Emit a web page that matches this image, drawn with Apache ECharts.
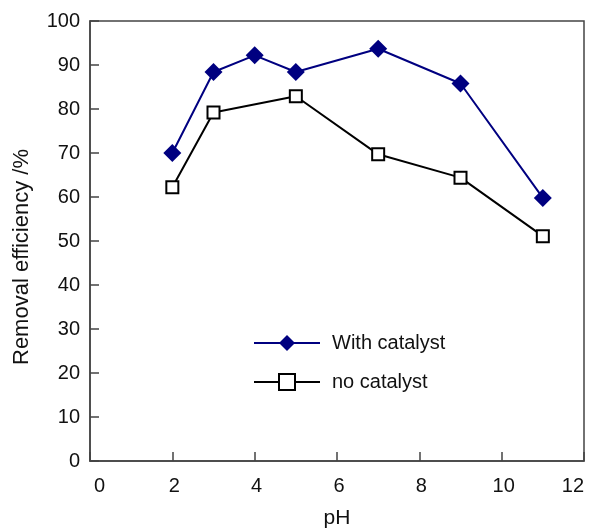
<!DOCTYPE html>
<html>
<head>
<meta charset="utf-8">
<script src="https://cdn.jsdelivr.net/npm/echarts@6/dist/echarts.min.js"></script>
<style>
  html, body { margin: 0; padding: 0; background: #fff; }
</style>
</head>
<body>
<div id="phChart" style="width: 595px; height: 532px;"></div>
<script>
// pH values and removal efficiency (%)
var phWith = [2, 3, 4, 5, 7, 9, 11];
var withCatalyst = [70, 88.4, 92.2, 88.4, 93.7, 85.8, 59.8];
var phNo = [2, 3, 5, 7, 9, 11];
var noCatalyst = [62.2, 79.2, 82.9, 69.7, 64.4, 51.1];

function pairs(xs, ys) {
    var res = [];
    for (var i = 0; i < xs.length; i++) {
        res.push([xs[i], ys[i]]);
    }
    return res;
}

var fontFam = '"Liberation Sans", Arial, sans-serif';

var option = {
    animation: false,
    textStyle: { fontFamily: fontFam },
    grid: {
        left: 90, right: 11, top: 21, bottom: 71,
        outerBoundsMode: 'none',
        show: true,
        borderColor: '#444',
        borderWidth: 1.5
    },
    legend: {
        orient: 'vertical',
        left: 253,
        top: 333,
        padding: 0,
        itemWidth: 66,
        itemHeight: 20,
        itemGap: 19,
        textStyle: { fontSize: 20, color: '#111', fontFamily: fontFam, padding: [0, 0, 0, 7] },
        data: ['With catalyst', 'no catalyst']
    },
    xAxis: {
        type: 'value',
        min: 0, max: 12, interval: 2,
        name: 'pH',
        nameLocation: 'middle',
        nameGap: 47,
        nameTextStyle: { fontSize: 21, color: '#111' },
        axisLine: { lineStyle: { color: '#444', width: 1.5 } },
        axisTick: { inside: true, length: 9, lineStyle: { color: '#444', width: 1.5 } },
        axisLabel: {
            fontSize: 20, color: '#111', margin: 15, padding: [0, 0, 0, 4],
            alignMinLabel: 'left', alignMaxLabel: 'right'
        },
        splitLine: { show: false }
    },
    yAxis: {
        type: 'value',
        min: 0, max: 100, interval: 10,
        name: 'Removal efficiency /%',
        nameLocation: 'middle',
        nameGap: 57,
        nameTextStyle: { fontSize: 22, color: '#111', padding: [0, 32, 0, 0] },
        axisLine: { show: true, lineStyle: { color: '#444', width: 1.5 } },
        axisTick: { show: true, inside: true, length: 9, lineStyle: { color: '#444', width: 1.5 } },
        axisLabel: { fontSize: 20, color: '#111', margin: 10 },
        splitLine: { show: false }
    },
    series: [
        {
            name: 'With catalyst',
            type: 'line',
            data: pairs(phWith, withCatalyst),
            symbol: 'diamond',
            symbolSize: 18,
            itemStyle: { color: '#000080' },
            lineStyle: { color: '#000080', width: 2 }
        },
        {
            name: 'no catalyst',
            type: 'line',
            data: pairs(phNo, noCatalyst),
            symbol: 'rect',
            symbolSize: 12,
            itemStyle: { color: '#fff', borderColor: '#000', borderWidth: 2 },
            lineStyle: { color: '#000', width: 2 }
        }
    ]
};

var chart = echarts.init(document.getElementById('phChart'));
chart.setOption(option);
</script>
</body>
</html>
